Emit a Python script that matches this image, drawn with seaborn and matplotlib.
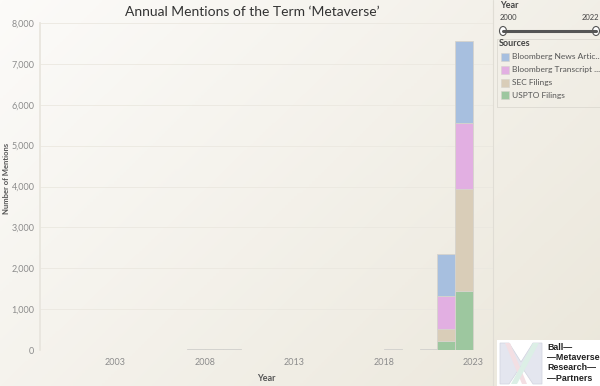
import numpy as np
import pandas as pd
import matplotlib
matplotlib.use('Agg')
import matplotlib.pyplot as plt
from matplotlib.patches import Rectangle, Polygon
import seaborn as sns

# datos
years = list(range(2000, 2023))
sources = ['Bloomberg News Articles', 'Bloomberg Transcripts', 'SEC Filings', 'USPTO Filings']
legend_labels = ['Bloomberg News Artic...', 'Bloomberg Transcript ...', 'SEC Filings', 'USPTO Filings']
colors = ['#a7bfdf', '#e2afe2', '#d9cdb8', '#9dc79f']

news = {2007: 15, 2008: 15, 2009: 15, 2018: 15, 2020: 20, 2021: 1025, 2022: 2000}
transcripts = {2021: 805, 2022: 1616}
sec = {2021: 292, 2022: 2506}
uspto = {2021: 232, 2022: 1434}

rows = []
for src, vals in zip(sources, [news, transcripts, sec, uspto]):
    for y in years:
        rows.append({'Year': y, 'Source': src, 'Mentions': vals.get(y, 0)})
df = pd.DataFrame(rows)

sns.set_theme(style='white')
plt.rcParams['font.family'] = ['Lato', 'DejaVu Sans']

fig = plt.figure(figsize=(6, 3.86), dpi=100)

# fondo degradado
bg = fig.add_axes([0, 0, 1, 1], zorder=-10)
gx, gy = np.meshgrid(np.linspace(0, 1, 200), np.linspace(0, 1, 130))
grad = (gx * 0.6 + gy * 0.4)
bg.imshow(grad, cmap=matplotlib.colors.LinearSegmentedColormap.from_list('bg', ['#fcfbf9', '#ebe7db']),
          aspect='auto', extent=[0, 1, 0, 1], origin='upper')
bg.axis('off')

ax = fig.add_axes([40 / 600, 1 - 350 / 386, 453 / 600, 327 / 386])
ax.set_facecolor('none')
sns.histplot(data=df, x='Year', weights='Mentions', hue='Source', hue_order=sources,
             binwidth=1, binrange=(2000, 2023), multiple='stack', palette=colors,
             edgecolor='#d6d3cc', linewidth=0.6, alpha=1, legend=False, ax=ax)

ax.set_xlim(1998.8, 2024.1)
ax.set_ylim(0, 8000)
ax.set_yticks(range(0, 8001, 1000))
ax.set_yticklabels([f'{v:,}' for v in range(0, 8001, 1000)])
ax.set_xticks([2003, 2008, 2013, 2018, 2023])
ax.tick_params(axis='both', labelsize=6.5, colors='#8c8c8c', length=0, pad=4)
ax.tick_params(axis='x', pad=6)
ax.grid(axis='y', color='#ebe8e0', linewidth=0.6)
ax.set_axisbelow(True)
for s in ['top', 'right', 'bottom']:
    ax.spines[s].set_visible(False)
ax.spines['left'].set_color('#e8e5dd')
ax.set_xlabel('Year', fontsize=6.5, color='#555555', fontweight='bold', labelpad=5)
ax.set_ylabel('')
fig.text(0.011, 1 - 178 / 386, 'Number of Mentions', rotation=90, fontsize=5.5, color='#555555',
         fontweight='bold', ha='center', va='center')

fig.text(252 / 600, 1 - 12 / 386, 'Annual Mentions of the Term \u2018Metaverse\u2019',
         fontsize=10, color='#333333', ha='center', va='center')

# panel derecho
fig.add_artist(plt.Line2D([493 / 600, 493 / 600], [0, 1], color='#e0ddd5', linewidth=0.8))
fig.text(500 / 600, 1 - 5 / 386, 'Year', fontsize=6.5, color='#444444', fontweight='bold', va='center')
fig.text(500 / 600, 1 - 18 / 386, '2000', fontsize=5.5, color='#444444', va='center')
fig.text(599 / 600, 1 - 18 / 386, '2022', fontsize=5.5, color='#444444', va='center', ha='right')
sy = 1 - 31 / 386
fig.add_artist(plt.Line2D([503 / 600, 596 / 600], [sy, sy], color='#555555', linewidth=2.2))
for hx in [503, 596]:
    fig.add_artist(matplotlib.patches.Ellipse((hx / 600, sy), 7 / 600, 9 / 386,
                                              facecolor='white', edgecolor='#555555', linewidth=0.8))
fig.add_artist(Rectangle((497 / 600, 1 - 107 / 386), 110 / 600, 68 / 386, facecolor='none',
                         edgecolor='#dcd9d1', linewidth=0.6))
fig.text(499 / 600, 1 - 44 / 386, 'Sources', fontsize=6.5, color='#444444', fontweight='bold', va='center')
for i, (lab, c) in enumerate(zip(legend_labels, colors)):
    yy = 1 - (57 + i * 12.8) / 386
    fig.add_artist(Rectangle((501 / 600, yy - 4 / 386), 8 / 600, 8 / 386, facecolor=c,
                             edgecolor='#d6d3cc', linewidth=0.4))
    fig.text(512 / 600, yy, lab, fontsize=6, color='#555555', va='center')

# logo
lg = fig.add_axes([497 / 600, 0, 103 / 600, 46 / 386])
lg.set_xlim(0, 103)
lg.set_ylim(0, 46)
lg.add_patch(Rectangle((0, 0), 103, 46, facecolor='white', edgecolor='none'))
lg.add_patch(Polygon([[3, 43], [12, 43], [24, 24], [36, 43], [45, 43], [45, 2], [36, 2], [24, 20],
                      [12, 2], [3, 2]], facecolor='#e4e6ef', edgecolor='#d0d3de', linewidth=0.5))
lg.add_patch(Polygon([[8, 43], [13, 43], [30, 2], [25, 2]], facecolor='#f3dfe3', edgecolor='none'))
lg.add_patch(Polygon([[36, 43], [42, 43], [20, 2], [14, 2]], facecolor='#dcefe6', edgecolor='none'))
lg.axis('off')
for i, t in enumerate(['Ball\u2014', '\u2014Metaverse', 'Research\u2014', '\u2014Partners']):
    lg.text(50, 39 - i * 10.5, t, fontsize=6.4, fontweight='bold', color='#222222',
            va='center', family=['Liberation Sans', 'DejaVu Sans'])

fig.savefig('out.png', dpi=100)
